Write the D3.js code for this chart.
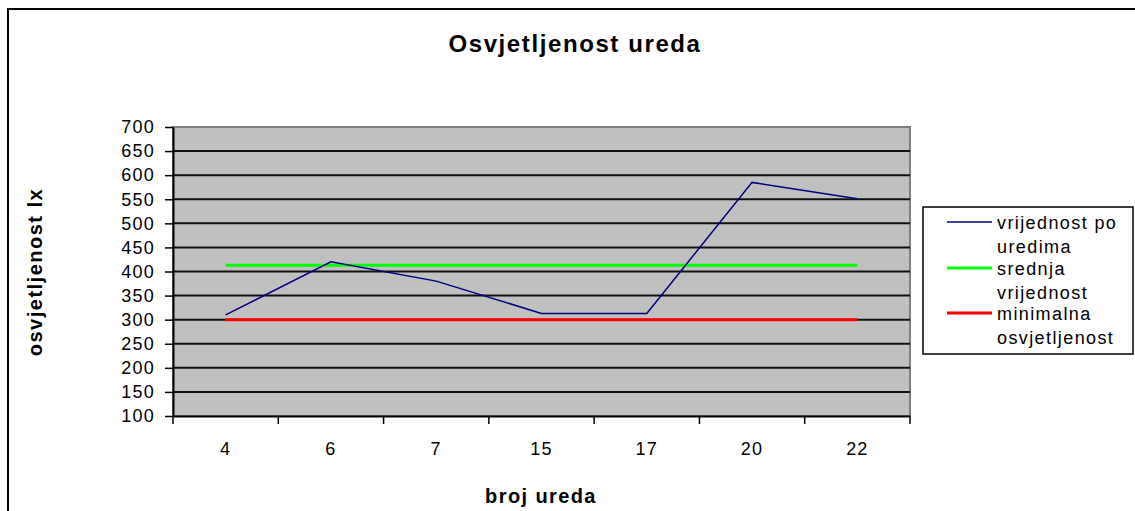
<!DOCTYPE html>
<html>
<head>
<meta charset="utf-8">
<script src="https://cdn.jsdelivr.net/npm/d3@7"></script>
<style>
  body { margin: 0; background: #fff; }
  text { font-family: Arial, "Liberation Sans", sans-serif; }
</style>
</head>
<body>
<svg id="chart" width="1135" height="511"></svg>
<script>
const offices = ["4", "6", "7", "15", "17", "20", "22"];
const measured = [310, 420, 380, 313, 313, 585, 551];
const meanValue = [413, 413, 413, 413, 413, 413, 413];
const minimumValue = [300, 300, 300, 300, 300, 300, 300];
const yTicks = [100, 150, 200, 250, 300, 350, 400, 450, 500, 550, 600, 650, 700];
const seriesNames = [["vrijednost po", "uredima"], ["srednja", "vrijednost"], ["minimalna", "osvjetljenost"]];
const seriesColors = ["#000080", "#00ff00", "#ff0000"];

const width = 1135, height = 511;
const margin = {left: 173, right: 225, top: 127, bottom: 95};
const innerWidth = width - margin.left - margin.right;
const innerHeight = height - margin.top - margin.bottom;

const svg = d3.select("#chart");

// outer chart border
svg.append("rect")
   .attr("x", 8).attr("y", 9)
   .attr("width", 1140).attr("height", 520)
   .attr("fill", "none").attr("stroke", "#000").attr("stroke-width", 2);

svg.append("text")
   .attr("x", 575).attr("y", 52)
   .attr("text-anchor", "middle")
   .attr("font-size", 24).attr("font-weight", "bold")
   .attr("letter-spacing", 1.6)
   .text("Osvjetljenost ureda");

const g = svg.append("g")
             .attr("transform", `translate(${margin.left}, ${margin.top})`);

const xScale = d3.scaleBand()
                 .domain(offices)
                 .range([0, innerWidth]);

const yScale = d3.scaleLinear()
                 .domain([100, 700])
                 .range([innerHeight, 0]);

g.append("rect")
 .attr("width", innerWidth).attr("height", innerHeight)
 .attr("fill", "#c0c0c0")
 .attr("stroke", "#808080").attr("stroke-width", 2);

// gridlines
g.selectAll(".grid")
 .data(yTicks.slice(1, -1))
 .enter()
 .append("line")
    .attr("x1", 0).attr("x2", innerWidth)
    .attr("y1", d => yScale(d)).attr("y2", d => yScale(d))
    .attr("stroke", "#111").attr("stroke-width", 2);

const yAxis = d3.axisLeft(yScale).tickValues(yTicks).tickSize(8).tickSizeOuter(0).tickPadding(10);
const yG = g.append("g")
            .attr("id", "y-axis")
            .call(yAxis)
            .attr("font-size", 18)
            .attr("font-family", "Arial, 'Liberation Sans', sans-serif");
yG.select(".domain").attr("stroke-width", 2);
yG.selectAll(".tick line").attr("stroke-width", 1.5);
yG.selectAll("text").attr("letter-spacing", 1.2).attr("fill", "#000");

const xAxis = d3.axisBottom(xScale).tickSize(0).tickPadding(26);
const xG = g.append("g")
            .attr("id", "x-axis")
            .attr("transform", `translate(0, ${innerHeight})`)
            .call(xAxis)
            .attr("font-size", 18)
            .attr("font-family", "Arial, 'Liberation Sans', sans-serif");
xG.select(".domain").attr("stroke-width", 2);
xG.selectAll("text").attr("letter-spacing", 1.2).attr("fill", "#000");
xG.selectAll(".sep")
  .data(offices.concat(["end"]))
  .enter()
  .append("line")
    .attr("x1", (d, i) => i * xScale.step()).attr("x2", (d, i) => i * xScale.step())
    .attr("y1", 0).attr("y2", 8)
    .attr("stroke", "#000").attr("stroke-width", 1.5);

const cx = d => xScale(d) + xScale.bandwidth() / 2;
const line = d3.line().x((d, i) => cx(offices[i])).y(d => yScale(d));

g.append("path").datum(minimumValue)
 .attr("d", line).attr("fill", "none")
 .attr("stroke", seriesColors[2]).attr("stroke-width", 3);
g.append("path").datum(meanValue)
 .attr("d", line).attr("fill", "none")
 .attr("stroke", seriesColors[1]).attr("stroke-width", 3);
g.append("path").datum(measured)
 .attr("d", line).attr("fill", "none")
 .attr("stroke", seriesColors[0]).attr("stroke-width", 1.5);

// axis titles
svg.append("text")
   .attr("transform", "translate(42, 272) rotate(-90)")
   .attr("text-anchor", "middle")
   .attr("font-size", 20).attr("font-weight", "bold")
   .attr("letter-spacing", 1.5)
   .text("osvjetljenost lx");

svg.append("text")
   .attr("x", 541).attr("y", 503)
   .attr("text-anchor", "middle")
   .attr("font-size", 20).attr("font-weight", "bold")
   .attr("letter-spacing", 1.4)
   .text("broj ureda");

// legend
const legend = svg.append("g").attr("transform", "translate(923, 207)");
legend.append("rect")
      .attr("width", 210).attr("height", 147)
      .attr("fill", "#fff").attr("stroke", "#000").attr("stroke-width", 1.5);

const rowY = [15, 61, 106];
seriesNames.forEach((names, i) => {
    legend.append("line")
          .attr("x1", 24).attr("x2", 69)
          .attr("y1", rowY[i]).attr("y2", rowY[i])
          .attr("stroke", seriesColors[i]).attr("stroke-width", i === 0 ? 1.5 : 3);
    names.forEach((t, j) => {
        legend.append("text")
              .attr("x", 74).attr("y", rowY[i] + 7 + j * 24)
              .attr("font-size", 18).attr("letter-spacing", 1.4)
              .text(t);
    });
});
</script>
</body>
</html>
